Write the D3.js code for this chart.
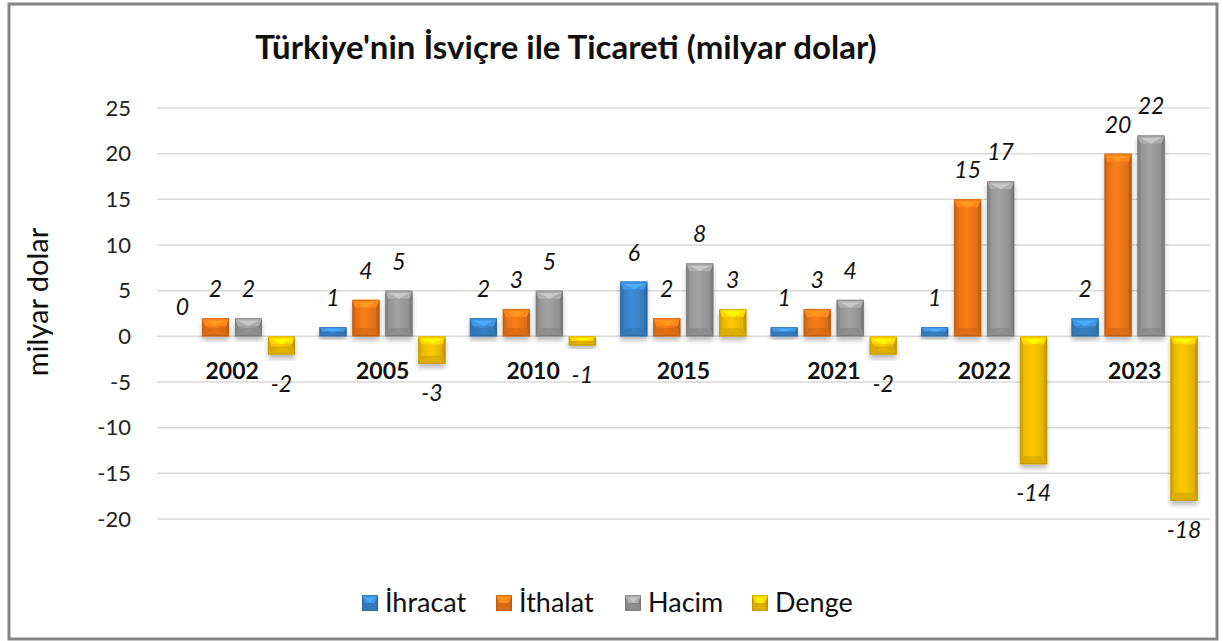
<!DOCTYPE html>
<html><head><meta charset="utf-8">
<script src="https://cdn.jsdelivr.net/npm/d3@7"></script>
<style>body{margin:0;background:#fff}svg{display:block}text{font-family:Lato,"Open Sans",sans-serif}</style>
</head><body>
<svg id="c" width="1223" height="641"></svg>
<script>
const years = ["2002","2005","2010","2015","2021","2022","2023"];
const seriesNames = ["İhracat","İthalat","Hacim","Denge"];
const ihracat = [0, 1, 2, 6, 1, 1, 2];
const ithalat = [2, 4, 3, 2, 3, 15, 20];
const hacim   = [2, 5, 5, 8, 4, 17, 22];
const denge   = [-2, -3, -1, 3, -2, -14, -18];
const yTicks = [25,20,15,10,5,0,-5,-10,-15,-20];
const seriesColors = ["#3b87cf","#f07818","#9c9c9c","#f6c200"];
const title = "Türkiye'nin İsviçre ile Ticareti (milyar dolar)";
const yTitle = "milyar dolar";

const values = [ihracat, ithalat, hacim, denge];
const svg = d3.select("#c");
const defs = svg.append("defs");
const f = defs.append("filter").attr("id","sh").attr("x","-30%").attr("y","-30%").attr("width","160%").attr("height","160%");
f.append("feDropShadow").attr("dx",0).attr("dy",4).attr("stdDeviation",2.5).attr("flood-color","#000").attr("flood-opacity",0.28);

seriesColors.forEach((c,i)=>{
  const g = defs.append("linearGradient").attr("id","g"+i).attr("x1","0").attr("x2","1").attr("y1","0").attr("y2","0");
  const col = d3.color(c);
  g.append("stop").attr("offset","0").attr("stop-color", col.darker(0.25));
  g.append("stop").attr("offset","0.45").attr("stop-color", col.brighter(0.12));
  g.append("stop").attr("offset","1").attr("stop-color", col.darker(0.35));
});

const fmt = v => String(v);

// frame
svg.append("rect").attr("x",9).attr("y",4).attr("width",1208).attr("height",635)
  .attr("fill","#fff").attr("stroke","#858585").attr("stroke-width",3);

const y = d3.scaleLinear().domain([-20,25]).range([519,108]);
const x0 = d3.scaleBand().domain(years).range([157,1210]);
const x1 = d3.scaleBand().domain(seriesNames).range([12,138]).paddingInner(0.18);

// gridlines
svg.append("g").selectAll("line").data(yTicks).join("line")
  .attr("x1",157).attr("x2",1210).attr("y1",d=>y(d)).attr("y2",d=>y(d))
  .attr("stroke","#d9d9d9").attr("stroke-width",1.5);

// y axis labels
const yAxis = d3.axisLeft(y).tickValues(yTicks).tickFormat(fmt).tickSize(0).tickPadding(0);
const ya = svg.append("g").attr("transform","translate(131,0)").call(yAxis);
ya.select(".domain").remove();
ya.selectAll("text").attr("font-size",22).attr("fill","#222").attr("font-family","Lato");

svg.append("text").attr("transform","translate(48,302) rotate(-90)").attr("text-anchor","middle")
  .attr("font-size",29).attr("fill","#111").text(yTitle);

svg.append("text").attr("x",566).attr("y",59).attr("text-anchor","middle")
  .attr("font-size",33).attr("font-weight","bold").attr("fill","#111").text(title);

function bevelBar(g, x, yTop, w, h, i, shadow){
  const col = d3.color(seriesColors[i]);
  const grp = g.append("g");
  const r = grp.append("rect").attr("x",x).attr("y",yTop).attr("width",w).attr("height",h)
    .attr("fill","url(#g"+i+")");
  if (shadow) r.attr("filter","url(#sh)");
  const b = Math.min(8, h/2, w/2);
  const s = Math.min(3, h/2);
  // side strips
  grp.append("path").attr("d",`M${x},${yTop}L${x+s},${yTop+b}L${x+s},${yTop+h-b}L${x},${yTop+h}Z`).attr("fill",col.darker(0.4));
  grp.append("path").attr("d",`M${x+w},${yTop}L${x+w-s},${yTop+b}L${x+w-s},${yTop+h-b}L${x+w},${yTop+h}Z`).attr("fill",col.darker(0.6));
  // top bevel
  grp.append("path").attr("d",`M${x},${yTop}L${x+w},${yTop}L${x+w-s},${yTop+b}L${x+s},${yTop+b}Z`).attr("fill",col.brighter(0.3));
  grp.append("path").attr("d",`M${x+s},${yTop+b*0.3}L${x+w-s},${yTop+b*0.3}L${x+w/2},${yTop+b}Z`).attr("fill",col.brighter(0.75)).attr("opacity",0.85);
  // bottom bevel
  grp.append("path").attr("d",`M${x},${yTop+h}L${x+w},${yTop+h}L${x+w-s},${yTop+h-b}L${x+s},${yTop+h-b}Z`).attr("fill",col.darker(0.35));
  grp.append("path").attr("d",`M${x+s},${yTop+h-b*0.3}L${x+w-s},${yTop+h-b*0.3}L${x+w/2},${yTop+h-b}Z`).attr("fill",col.darker(0.15)).attr("opacity",0.6);
  grp.append("rect").attr("x",x+0.5).attr("y",yTop+0.5).attr("width",Math.max(0,w-1)).attr("height",Math.max(0,h-1))
    .attr("fill","none").attr("stroke",col.darker(1)).attr("stroke-width",1).attr("opacity",0.45);
}

const barsG = svg.append("g");
const labelsG = svg.append("g");
years.forEach((yr, j)=>{
  seriesNames.forEach((s, i)=>{
    const v = values[i][j];
    const bx = x0(yr) + x1(s);
    const w = x1.bandwidth();
    const top = y(Math.max(0,v)), bot = y(Math.min(0,v));
    if (bot - top > 0) bevelBar(barsG, bx, top, w, bot-top, i, true);
    const ly = v >= 0 ? top - 29 : bot + 29;
    labelsG.append("text").attr("x",bx + w/2).attr("y",ly).attr("dy","0.35em")
      .attr("text-anchor","middle").attr("font-size",23).attr("font-style","italic").attr("fill","#111")
      .text(fmt(v));
  });
  labelsG.append("text").attr("x",x0(yr)+x0.bandwidth()/2).attr("y",371).attr("dy","0.35em")
    .attr("text-anchor","middle").attr("font-size",23).attr("font-weight","bold").attr("fill","#111").text(yr);
});

// legend
const legendX = [362, 496, 625, 752];
const lg = svg.append("g");
seriesNames.forEach((s,i)=>{
  const gx = legendX[i];
  bevelBar(lg, gx, 595, 16, 16, i, false);
  lg.append("text").attr("x",gx+23).attr("y",603).attr("dy","0.35em").attr("font-size",27).attr("fill","#111").text(s);
});
</script>
</body></html>
